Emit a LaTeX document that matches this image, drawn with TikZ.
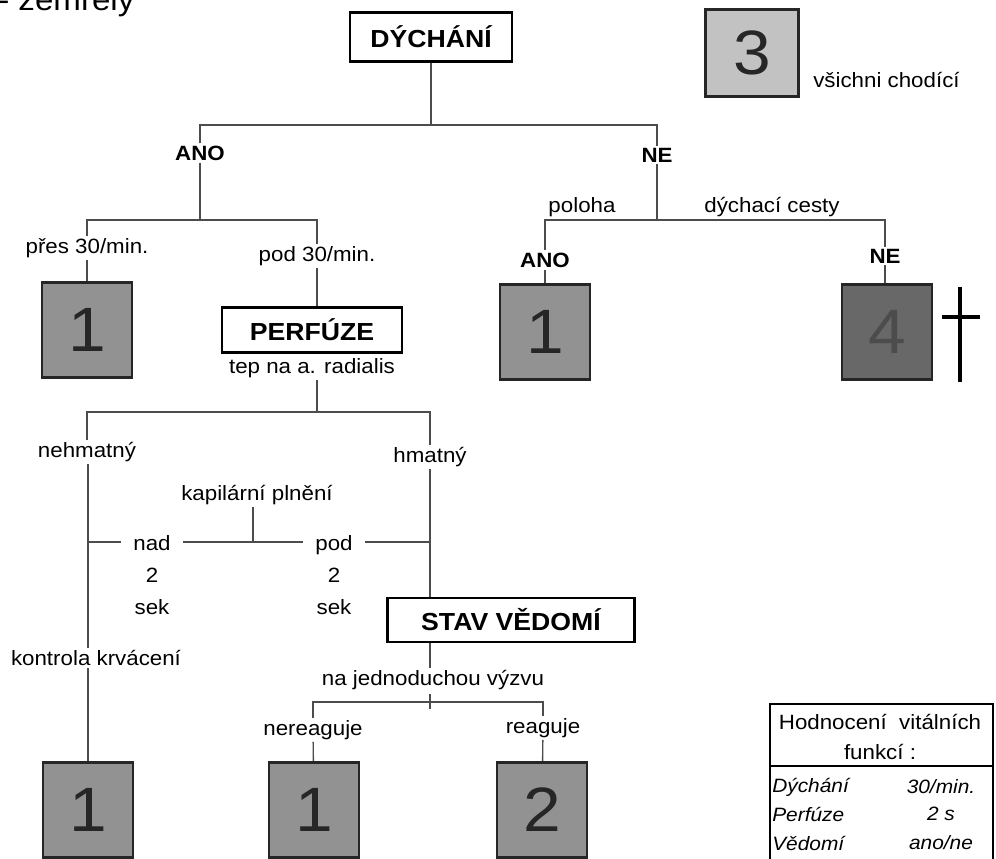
\documentclass[tikz,border=0pt]{standalone}
\usepackage{fontspec}
\setmainfont{Liberation Sans}[FakeStretch=1.08]
\usetikzlibrary{positioning,calc}
\definecolor{catmid}{RGB}{146,146,146}
\definecolor{catlight}{RGB}{194,194,194}
\definecolor{catdark}{RGB}{104,104,104}

\begin{document}
\begin{tikzpicture}[x=0.75pt,y=-0.75pt,
  link/.style={draw=black!70,line width=1pt},
  lbl/.style={font=\fontsize{15.5}{18}\selectfont,inner sep=1.5pt},
  yn/.style={font=\fontsize{15.5}{18}\selectfont\bfseries,inner sep=1.5pt},
  stage/.style={draw,line width=2.2pt,fill=white,inner sep=0pt,font=\fontsize{18.5}{22}\selectfont\bfseries},
  cat/.style={draw=black!85,line width=2.2pt,inner sep=0pt,minimum width=67.5pt,minimum height=71pt,font=\fontsize{47}{50}\selectfont,text=black!85},
  leg/.style={font=\fontsize{14.5}{16}\selectfont,inner sep=0pt}]
\useasboundingbox (0,0) rectangle (996,859);

\node[font=\fontsize{23}{26}\selectfont,anchor=base west,inner sep=0pt] (dead) at (-2,11) {- zemřelý};

% first question
\node[stage,minimum width=121.5pt,minimum height=36.75pt] (breath) at (431,37) {DÝCHÁNÍ};
\node[cat,fill=catlight,minimum width=69.75pt,minimum height=65.25pt] (cat3) at (752,53) {3};
\node[lbl,anchor=west] (walk) at (811,80) {všichni chodící};

\node[yn] (ano1) at (200,153) {ANO};
\node[yn] (ne1) at (657,155) {NE};
\coordinate (j1) at (431,125);
\draw[link] (breath) -- (j1);
\draw[link] (ano1.north) |- (j1) -| (ne1.north);

% breathing yes
\node[lbl] (fast) at (87,248) {přes 30/min.};
\node[lbl] (slow) at (317,256) {pod 30/min.};
\coordinate (j2) at (200,220);
\draw[link] (ano1) -- (j2);
\draw[link] (fast.north) |- (j2) -| (slow.north);
\node[cat,fill=catmid] (catA) at (87,330) {1};
\draw[link] (fast) -- (catA);

\node[stage,minimum width=135pt,minimum height=33.75pt] (perf) at (312,330) {PERFÚZE};
\draw[link] (slow.south) -- (slow.south |- perf.north);
\node[lbl,below=2pt of perf] (pulse) {tep na a. radialis};

% breathing no
\node[lbl] (pos) at (582,207) {poloha};
\node[lbl] (airway) at (772,207) {dýchací cesty};
\node[yn] (ano2) at (545,260) {ANO};
\node[yn] (ne2) at (885,256) {NE};
\coordinate (j6) at (657,220);
\draw[link] (ne1) -- (j6);
\draw[link] (ano2.north) |- (j6) -| (ne2.north);
\node[cat,fill=catmid] (catB) at (545,332) {1};
\node[cat,fill=catdark,text=black!70] (catC) at (887,332) {4};
\draw[link] (ano2) -- (catB);
\draw[link] (ne2) -- (ne2 |- catC.north);
\draw[line width=2.4pt] (960,287) -- (960,382) (942,317) -- (980,317);

% perfusion
\node[lbl] (noPulse) at (87,452) {nehmatný};
\node[lbl] (palp) at (430,457) {hmatný};
\coordinate (j3) at (317,412);
\draw[link] (pulse.south -| j3) -- (j3);
\draw[link] (noPulse.north) |- (j3) -| (palp.north);

\node[lbl] (capText) at (257,495) {kapilární plnění};
\node[lbl,align=center,anchor=north,inner xsep=9pt,font=\fontsize{15.5}{24}\selectfont] (nad) at (152,533) {nad\\2\\sek};
\node[lbl,align=center,anchor=north,inner xsep=9pt,font=\fontsize{15.5}{24}\selectfont] (pod) at (334,533) {pod\\2\\sek};
\coordinate (clL) at (88,542);
\coordinate (clR) at (430,542);
\coordinate (clM) at (253,542);
\draw[link] (clL) -- (clL -| nad.west);
\draw[link] (clL -| nad.east) -- (clL -| pod.west);
\draw[link] (clL -| pod.east) -- (clR);
\draw[link] (capText.south -| clM) -- (clM);

\node[lbl] (bleed) at (96,658) {kontrola krvácení};
\draw[link] (noPulse.south -| clL) -- (clL |- bleed.north);
\node[cat,fill=catmid] (catD) at (88,810) {1};
\draw[link] (catD.north |- bleed.south) -- (catD.north);

% consciousness
\node[stage,minimum width=185pt,minimum height=33pt] (cons) at (511,620) {STAV VĚDOMÍ};
\draw[link] (palp.south) -- (palp.south |- cons.north);
\node[lbl] (call) at (433,680) {na jednoduchou výzvu};
\draw[link] (palp.south |- cons.south) -- (palp.south |- call.north);
\node[lbl] (noResp) at (313,730) {nereaguje};
\node[lbl] (resp) at (543,728) {reaguje};
\coordinate (j5) at (430,702);
\draw[link] (noResp.north) |- (j5) -| (resp.north);
\draw[link] ([yshift=-5]j5) -- ([yshift=6]j5);
\node[cat,fill=catmid] (catE) at (314,810) {1};
\node[cat,fill=catmid] (catF) at (542,810) {2};
\draw[link] (noResp) -- (catE);
\draw[link] (resp) -- (catF);

% legend
\node[draw,line width=1.3pt,minimum width=167.25pt,minimum height=135pt,anchor=north west,inner sep=0pt] (legend) at (769,703) {};
\draw[line width=1.3pt] (769,766) -- (992,766);
\node[leg,font=\fontsize{15.5}{16}\selectfont] (legT1) at (880,722) {Hodnocení\ \ vitálních};
\node[leg,font=\fontsize{15.5}{16}\selectfont] (legT2) at (880,752) {funkcí :};
\foreach \nm/\val/\yy in {Dýchání/30\slash min./787, Perfúze/2 s/814, Vědomí/ano\slash ne/843}{
  \node[leg,anchor=west] at (772,\yy) {\itshape \nm};
  \node[leg] at (941,\yy) {\itshape \val};
}
\end{tikzpicture}
\end{document}
